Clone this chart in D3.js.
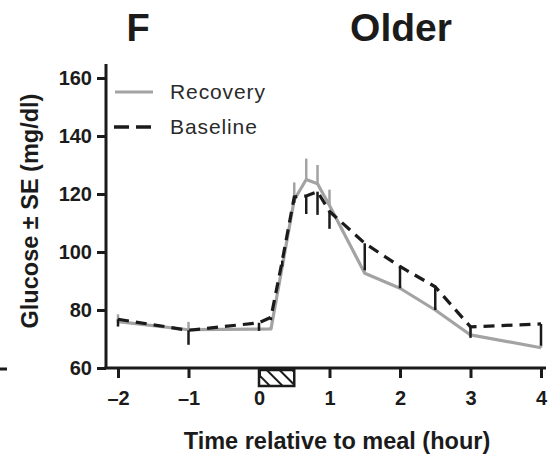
<!DOCTYPE html>
<html><head><meta charset="utf-8">
<script src="https://cdn.jsdelivr.net/npm/d3@7"></script>
<style>
body{margin:0;background:#fff;}
svg{display:block;font-family:"Liberation Sans",Arial,Helvetica,sans-serif;}
</style></head>
<body><svg id="c" width="554" height="460"></svg>
<script>
const times = [-2,-1,0,0.17,0.33,0.5,0.67,0.83,1,1.5,2,2.5,3,4];
const recovery   = [76,73.2,73.4,73.5,95,118,125,123.5,116,92.7,87.5,80,71.4,67];
const recoverySE = [2.5,2.7,1,0.8,2,6,7.2,6.5,5.5,1,1,1,3.4,1];
const baseline   = [76.8,73,75.6,77.5,97,119,119.3,120.8,114,103,95,88,74.2,75.2];
const baselineSE = [2.5,5,2.8,1,2,2,6.2,8,6,9.3,7.5,8,3.8,7.5];
const xTicks = [-2,-1,0,1,2,3,4];
const yTicks = [60,80,100,120,140,160];
const legendLabels = ["Recovery","Baseline"];
const mealWindow = [0,0.5];

const svg = d3.select("#c");
const x = d3.scaleLinear().domain([-2,4]).range([118,541]);
const y = d3.scaleLinear().domain([60,160]).range([368,78]);
const ink = "#1b1b1b", grey = "#a3a3a3";

// hatch pattern
const defs = svg.append("defs");
const pat = defs.append("pattern").attr("id","hatch").attr("patternUnits","userSpaceOnUse")
  .attr("width",9).attr("height",9).attr("patternTransform","rotate(45)");
pat.append("rect").attr("width",9).attr("height",9).attr("fill","#fff");
pat.append("line").attr("x1",0).attr("y1",0).attr("x2",9).attr("y2",0)
  .attr("stroke",ink).attr("stroke-width",4);

// titles
svg.append("text").attr("x",138).attr("y",41).attr("text-anchor","middle")
  .attr("font-size",38).attr("font-weight","bold").attr("fill",ink).text("F");
svg.append("text").attr("x",401).attr("y",41).attr("text-anchor","middle")
  .attr("font-size",39).attr("font-weight","bold").attr("fill",ink).text("Older");

// stray mark from neighbouring panel
svg.append("line").attr("x1",0).attr("x2",7).attr("y1",369).attr("y2",369)
  .attr("stroke",ink).attr("stroke-width",3);

// meal box
svg.append("rect").attr("x",x(mealWindow[0])).attr("y",370)
  .attr("width",x(mealWindow[1])-x(mealWindow[0])).attr("height",16)
  .attr("fill","url(#hatch)").attr("stroke",ink).attr("stroke-width",2.5);

// y axis
const yAxis = svg.append("g").attr("transform","translate(106,0)")
  .call(d3.axisLeft(y).tickValues(yTicks).tickSize(9).tickPadding(5));
yAxis.select(".domain").remove();
yAxis.append("line").attr("x1",0).attr("x2",0).attr("y1",64).attr("y2",369)
  .attr("stroke",ink).attr("stroke-width",3);
yAxis.selectAll(".tick line").attr("stroke",ink).attr("stroke-width",3);
yAxis.selectAll(".tick text").attr("fill",ink).attr("font-size",20)
  .attr("font-weight","bold").attr("font-family","Liberation Sans, Arial, sans-serif");

// x axis
const xAxis = svg.append("g").attr("transform","translate(0,368)")
  .call(d3.axisBottom(x).tickValues(xTicks).tickSize(10).tickPadding(13)
    .tickFormat(d => d < 0 ? "\u2013" + Math.abs(d) : String(d)));
xAxis.select(".domain").remove();
xAxis.append("line").attr("x1",104.5).attr("x2",546).attr("y1",0).attr("y2",0)
  .attr("stroke",ink).attr("stroke-width",3);
xAxis.selectAll(".tick line").attr("stroke",ink).attr("stroke-width",3);
xAxis.selectAll(".tick text").attr("fill",ink).attr("font-size",20)
  .attr("font-weight","bold").attr("font-family","Liberation Sans, Arial, sans-serif");

// axis titles
svg.append("text").attr("x",337).attr("y",449).attr("text-anchor","middle")
  .attr("font-size",23.5).attr("font-weight","bold").attr("fill",ink)
  .text("Time relative to meal (hour)");
svg.append("text").attr("transform","translate(38,211) rotate(-90)")
  .attr("text-anchor","middle").attr("font-size",23.5).attr("font-weight","bold")
  .attr("fill",ink).text("Glucose \u00b1 SE (mg/dl)");

const rec = times.map((t,i)=>({t,v:recovery[i],se:recoverySE[i]}));
const bas = times.map((t,i)=>({t,v:baseline[i],se:baselineSE[i]}));
const line = d3.line().x(d=>x(d.t)).y(d=>y(d.v));

// recovery error bars (up)
svg.append("g").selectAll("line").data(rec).join("line")
  .attr("x1",d=>x(d.t)).attr("x2",d=>x(d.t))
  .attr("y1",d=>y(d.v)).attr("y2",d=>y(d.v+d.se))
  .attr("stroke",grey).attr("stroke-width",2.5);
// recovery line
svg.append("path").datum(rec).attr("d",line).attr("fill","none")
  .attr("stroke",grey).attr("stroke-width",3.2).attr("stroke-linejoin","round");
// baseline error bars (down)
svg.append("g").selectAll("line").data(bas).join("line")
  .attr("x1",d=>x(d.t)).attr("x2",d=>x(d.t))
  .attr("y1",d=>y(d.v)).attr("y2",d=>y(d.v-d.se))
  .attr("stroke",ink).attr("stroke-width",2.5);
// baseline line
svg.append("path").datum(bas).attr("d",line).attr("fill","none")
  .attr("stroke",ink).attr("stroke-width",3.2).attr("stroke-dasharray","11,7");

// legend
const lg = svg.append("g");
lg.append("line").attr("x1",115).attr("x2",153).attr("y1",92).attr("y2",92)
  .attr("stroke",grey).attr("stroke-width",3.2);
lg.append("line").attr("x1",114).attr("x2",154).attr("y1",127).attr("y2",127)
  .attr("stroke",ink).attr("stroke-width",3.6).attr("stroke-dasharray","15,7");
lg.selectAll("text").data(legendLabels).join("text")
  .attr("x",170).attr("y",(d,i)=>99+i*35).attr("font-size",21)
  .attr("letter-spacing",0.9).attr("fill","#2a2a2a").text(d=>d);
</script></body></html>
